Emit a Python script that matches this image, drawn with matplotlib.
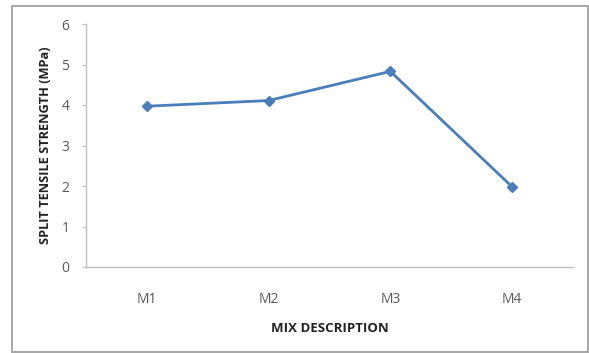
import matplotlib
matplotlib.use("Agg")
import matplotlib.pyplot as plt
from matplotlib.patches import Rectangle

mixes = ["M1", "M2", "M3", "M4"]
strength = [3.97, 4.11, 4.83, 1.98]
y_ticks = [0, 1, 2, 3, 4, 5, 6]

plt.rcParams["font.family"] = ["Open Sans", "DejaVu Sans"]

fig = plt.figure(figsize=(5.89, 3.53), dpi=100)
W, H = 589, 353

# outer chart frame
fig.patches.append(Rectangle((12 / W, 1.5 / H), 576 / W, 345.5 / H, transform=fig.transFigure,
                             facecolor="white", edgecolor="#a6a6a6", linewidth=1.4,
                             zorder=-1))

ax = fig.add_axes([86 / W, (H - 267) / H, (573 - 86) / W, (267 - 24) / H])
ax.set_facecolor("none")
x = list(range(len(mixes)))
ax.plot(x, strength, color="#4a7ebb", linewidth=2, marker="D", markersize=5,
        markerfacecolor="#4a7ebb", markeredgecolor="#4a7ebb")

ax.set_xlim(-0.5, len(mixes) - 0.5)
ax.set_ylim(0, 6)
ax.set_yticks(y_ticks)
ax.set_xticks(x)
ax.set_xticklabels(mixes)
for s in ["top", "right"]:
    ax.spines[s].set_visible(False)
for s in ["left", "bottom"]:
    ax.spines[s].set_color("#bfbfbf")
    ax.spines[s].set_linewidth(1)
ax.tick_params(axis="y", length=3, color="#bfbfbf", labelcolor="#595959", labelsize=10, pad=9)
ax.tick_params(axis="x", length=0, labelcolor="#595959", labelsize=10, pad=18)

ax.set_xlabel("MIX DESCRIPTION", fontsize=9.5, fontweight="bold", color="#222222", labelpad=11)
ax.set_ylabel("SPLIT TENSILE STRENGTH (MPa)", fontsize=9.2, fontweight="bold", color="#222222", labelpad=7)

fig.savefig("out.png", dpi=100)
